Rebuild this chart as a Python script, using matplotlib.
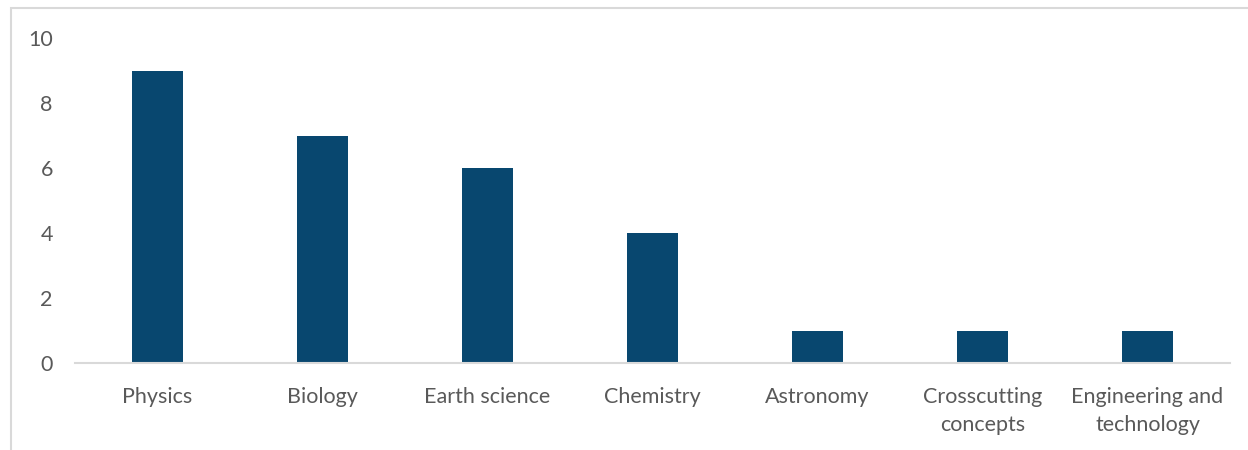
import matplotlib
matplotlib.use("Agg")
import matplotlib.pyplot as plt
from matplotlib.patches import Rectangle

categories = ["Physics", "Biology", "Earth science", "Chemistry", "Astronomy",
              "Crosscutting\nconcepts", "Engineering and\ntechnology"]
counts = [9, 7, 6, 4, 1, 1, 1]
y_ticks = [0, 2, 4, 6, 8, 10]

bar_color = "#08476F"
text_color = "#595959"
line_color = "#D9D9D9"

plt.rcParams["font.family"] = ["Lato", "DejaVu Sans"]

fig = plt.figure(figsize=(12.48, 4.5), dpi=100)
ax = fig.add_axes([75 / 1248, 1 - 363 / 450, 1155 / 1248, (363 - 38) / 450])

x = range(len(categories))
ax.bar(x, counts, width=0.31, color=bar_color, zorder=2)

ax.set_xlim(-0.5, len(categories) - 0.5)
ax.set_ylim(0, 10)
ax.set_yticks(y_ticks)
ax.set_yticklabels([str(v) for v in y_ticks], fontsize=15.5, color=text_color)
ax.set_xticks(list(x))
ax.set_xticklabels(categories, fontsize=15.5, color=text_color, linespacing=1.5)
ax.tick_params(axis="both", length=0)
ax.tick_params(axis="y", pad=16)
ax.tick_params(axis="x", pad=17)

for side in ("top", "right", "left"):
    ax.spines[side].set_visible(False)
ax.spines["bottom"].set_color(line_color)
ax.spines["bottom"].set_linewidth(1.5)

# outer chart frame
fig.patches.append(Rectangle((11 / 1248, -0.1), 1.2, 1 - 8 / 450 + 0.1,
                             transform=fig.transFigure, fill=False,
                             edgecolor=line_color, linewidth=1.5))

fig.savefig("out.png", dpi=100)
